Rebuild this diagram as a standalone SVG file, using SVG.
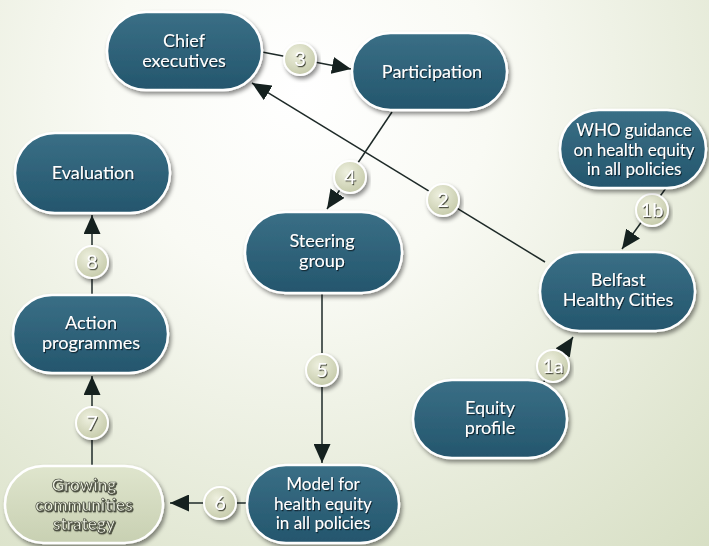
<svg xmlns="http://www.w3.org/2000/svg" width="709" height="546" viewBox="0 0 709 546">
<defs>
  <radialGradient id="bg" cx="300" cy="90" r="640" gradientUnits="userSpaceOnUse">
    <stop offset="0" stop-color="#ffffff"/>
    <stop offset="0.3" stop-color="#f9faf4"/>
    <stop offset="1" stop-color="#d5ddc1"/>
  </radialGradient>
  <linearGradient id="pill" x1="0" y1="0" x2="0" y2="1">
    <stop offset="0" stop-color="#3a6f86"/>
    <stop offset="1" stop-color="#24566d"/>
  </linearGradient>
  <linearGradient id="pillLight" x1="0" y1="0" x2="0" y2="1">
    <stop offset="0" stop-color="#dfe5cd"/>
    <stop offset="1" stop-color="#c8d0b2"/>
  </linearGradient>
  <radialGradient id="badge" cx="0.4" cy="0.35" r="0.7">
    <stop offset="0" stop-color="#eef0df"/>
    <stop offset="1" stop-color="#c4c9a8"/>
  </radialGradient>
  <filter id="shadow" x="-10%" y="-10%" width="125%" height="135%">
    <feDropShadow dx="2" dy="3" stdDeviation="2" flood-color="#000" flood-opacity="0.45"/>
  </filter>
  <filter id="tshadow" x="-10%" y="-20%" width="120%" height="150%">
    <feDropShadow dx="1" dy="1.2" stdDeviation="0.6" flood-color="#0b1f28" flood-opacity="0.9"/>
  </filter>
  <filter id="tshadowLight" x="-10%" y="-20%" width="120%" height="150%">
    <feDropShadow dx="1" dy="1.2" stdDeviation="0.5" flood-color="#3a3d33" flood-opacity="0.9"/>
  </filter>
  <marker id="arrow" markerUnits="userSpaceOnUse" markerWidth="19" markerHeight="17" refX="19" refY="8.5" orient="auto">
    <path d="M0,0 L19,8.5 L0,17 z" fill="#15211f"/>
  </marker>
  <style>
    .node rect { fill: url(#pill); stroke: #ffffff; stroke-width: 2.5; filter: url(#shadow); }
    .node.light rect { fill: url(#pillLight); }
    .node text { font-family: Lato, "Open Sans", sans-serif; font-size: 18px; fill: #ffffff; text-anchor: middle; filter: url(#tshadow); }
    .node.three text { font-size: 17px; }
    .node.light text { fill: #eef1e2; stroke: #4a4e40; stroke-width: 0.7; filter: url(#tshadowLight); font-weight: bold; }
    .conn line { stroke: #1e2a28; stroke-width: 1.5; }
    .badge circle { fill: url(#badge); stroke: #ffffff; stroke-width: 2; filter: url(#shadow); }
    .badge text { font-family: Lato, "Open Sans", sans-serif; font-size: 20px; fill: #ffffff; text-anchor: middle; filter: url(#tshadowLight); }
  </style>
</defs>
<rect x="0" y="0" width="709" height="546" fill="url(#bg)"/>

<g id="connectors" class="conn">
  <line x1="262" y1="52" x2="351" y2="69" marker-end="url(#arrow)"/>
  <line x1="545" y1="262" x2="252" y2="83" marker-end="url(#arrow)"/>
  <line x1="392" y1="112" x2="327" y2="209" marker-end="url(#arrow)"/>
  <line x1="666" y1="188" x2="622" y2="249" marker-end="url(#arrow)"/>
  <line x1="543" y1="383" x2="573" y2="337" marker-end="url(#arrow)"/>
  <line x1="322" y1="294" x2="322" y2="463" marker-end="url(#arrow)"/>
  <line x1="247" y1="503" x2="170" y2="503" marker-end="url(#arrow)"/>
  <line x1="92" y1="465" x2="92" y2="376" marker-end="url(#arrow)"/>
  <line x1="92" y1="295" x2="92" y2="215" marker-end="url(#arrow)"/>
  <g class="badge" id="badge-3"><circle cx="300" cy="59" r="16"/><text x="300" y="66">3</text></g>
  <g class="badge" id="badge-2"><circle cx="443" cy="200" r="16"/><text x="443" y="207">2</text></g>
  <g class="badge" id="badge-4"><circle cx="350" cy="177" r="16"/><text x="350" y="184">4</text></g>
  <g class="badge" id="badge-1b"><circle cx="652" cy="210" r="16"/><text x="652" y="217">1b</text></g>
  <g class="badge" id="badge-1a"><circle cx="553" cy="366" r="16"/><text x="553" y="373">1a</text></g>
  <g class="badge" id="badge-5"><circle cx="322" cy="370" r="16"/><text x="322" y="377">5</text></g>
  <g class="badge" id="badge-6"><circle cx="220" cy="503" r="16"/><text x="220" y="510">6</text></g>
  <g class="badge" id="badge-7"><circle cx="92" cy="423" r="16"/><text x="92" y="430">7</text></g>
  <g class="badge" id="badge-8"><circle cx="92" cy="262" r="16"/><text x="92" y="269">8</text></g>
</g>

<g id="chief" class="node">
  <rect x="107" y="12" width="155" height="78" rx="39"/>
  <text x="184" y="47">Chief</text>
  <text x="184" y="67">executives</text>
</g>
<g id="participation" class="node">
  <rect x="352" y="33" width="155" height="77" rx="38.5"/>
  <text x="432" y="78">Participation</text>
</g>
<g id="who" class="node three">
  <rect x="560" y="110" width="146" height="78" rx="39"/>
  <text x="634" y="136">WHO guidance</text>
  <text x="634" y="155.5">on health equity</text>
  <text x="634" y="175">in all policies</text>
</g>
<g id="belfast" class="node">
  <rect x="540" y="252" width="155" height="79" rx="39.5"/>
  <text x="618" y="286">Belfast</text>
  <text x="618" y="306">Healthy Cities</text>
</g>
<g id="evaluation" class="node">
  <rect x="15" y="133" width="155" height="80" rx="40"/>
  <text x="93" y="179">Evaluation</text>
</g>
<g id="action" class="node">
  <rect x="13" y="295" width="155" height="78" rx="39"/>
  <text x="91" y="329">Action</text>
  <text x="91" y="349">programmes</text>
</g>
<g id="steering" class="node">
  <rect x="245" y="212" width="157" height="81" rx="40.5"/>
  <text x="322" y="247">Steering</text>
  <text x="322" y="267">group</text>
</g>
<g id="equity" class="node">
  <rect x="413" y="380" width="154" height="78" rx="39"/>
  <text x="490" y="414">Equity</text>
  <text x="490" y="434">profile</text>
</g>
<g id="growing" class="node light three">
  <rect x="5" y="466" width="158" height="77" rx="38.5"/>
  <text x="84" y="491">Growing</text>
  <text x="84" y="510.5">communities</text>
  <text x="84" y="530">strategy</text>
</g>
<g id="model" class="node three">
  <rect x="247" y="465" width="152" height="78" rx="39"/>
  <text x="323" y="490">Model for</text>
  <text x="323" y="509.5">health equity</text>
  <text x="323" y="529">in all policies</text>
</g>
</svg>
